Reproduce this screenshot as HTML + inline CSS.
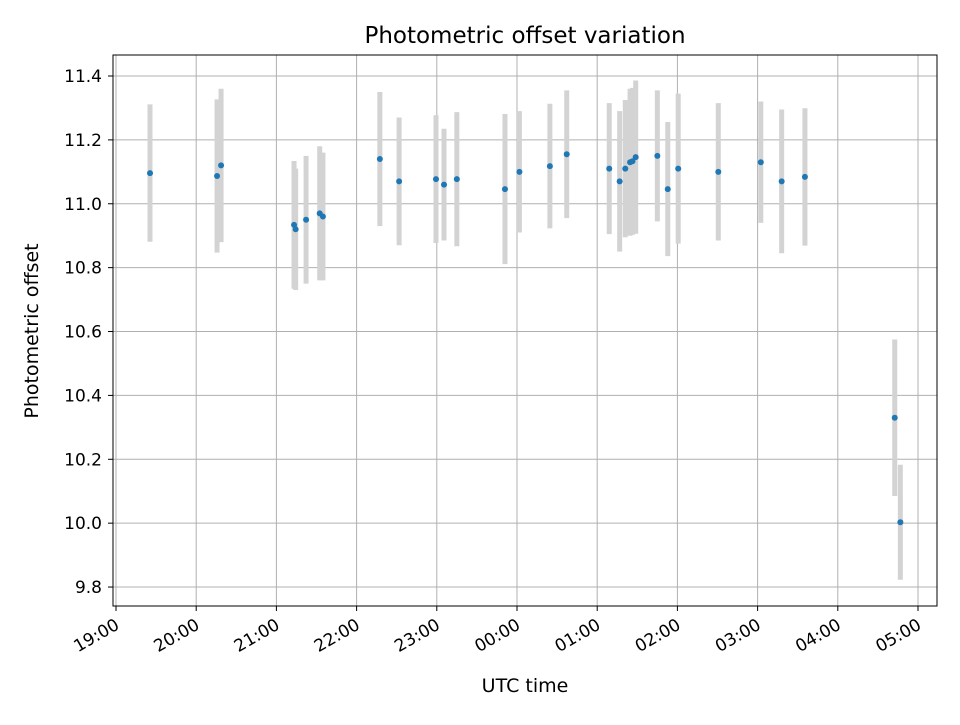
<!DOCTYPE html>
<html><head><meta charset="utf-8"><style>
body{margin:0;background:#fff;font-family:"Liberation Sans","DejaVu Sans",sans-serif}
text{font-family:"DejaVu Sans","Liberation Sans",sans-serif}
</style></head><body>
<svg id="chart" width="960" height="720" xmlns="http://www.w3.org/2000/svg">
<rect width="960" height="720" fill="#fff"/>
<g id="grid"></g>
<g id="bars"></g>
<g id="pts"></g>
<rect x="113" y="55" width="824" height="551" fill="none" stroke="#000" stroke-width="1"/>
<g id="axes"></g>
<text x="525" y="43" font-size="23" text-anchor="middle">Photometric offset variation</text>
<text x="525" y="692" font-size="19" text-anchor="middle">UTC time</text>
<text transform="translate(38,331) rotate(-90)" font-size="19" text-anchor="middle">Photometric offset</text>
</svg>
<script>
// hours since 19:00
const times=[0.424,1.26,1.31,2.22,2.24,2.37,2.54,2.58,3.29,3.53,3.99,4.09,4.25,4.85,5.03,5.41,5.62,6.15,6.28,6.35,6.41,6.44,6.48,6.75,6.88,7.01,7.51,8.04,8.30,8.59,9.71,9.78];
const values=[11.096,11.087,11.12,10.934,10.92,10.95,10.97,10.96,11.14,11.07,11.077,11.06,11.077,11.046,11.10,11.118,11.155,11.11,11.07,11.11,11.13,11.133,11.146,11.15,11.046,11.11,11.10,11.13,11.07,11.084,10.33,10.003];
const errors=[0.215,0.24,0.24,0.2,0.19,0.2,0.21,0.2,0.21,0.2,0.2,0.175,0.21,0.235,0.19,0.195,0.2,0.205,0.22,0.215,0.23,0.23,0.24,0.205,0.21,0.235,0.215,0.19,0.225,0.215,0.245,0.18];
const yTicks=[9.8,10.0,10.2,10.4,10.6,10.8,11.0,11.2,11.4];
const xTickLabels=["19:00","20:00","21:00","22:00","23:00","00:00","01:00","02:00","03:00","04:00","05:00"];
const NS="http://www.w3.org/2000/svg";
const X=t=>116+t*80.2;
const Y=v=>76+(11.4-v)*319.4;
function mk(tag,attrs,parent,txt){const e=document.createElementNS(NS,tag);for(const k in attrs)e.setAttribute(k,attrs[k]);if(txt!==undefined)e.textContent=txt;document.getElementById(parent).appendChild(e);return e;}
yTicks.forEach(v=>{
 const g=mk('line',{x1:113,x2:937,y1:Y(v),y2:Y(v),stroke:'#b0b0b0','stroke-width':1},'grid');
 
 const t=mk('line',{x1:108,x2:113,y1:Y(v),y2:Y(v),stroke:'#000'},'axes');
 
 const l=mk('text',{x:102,y:Y(v)+6,'font-size':17,'text-anchor':'end'},'axes',v.toFixed(1));
 
});
xTickLabels.forEach((s,i)=>{
 const x=X(i);
 const g=mk('line',{x1:x,x2:x,y1:55,y2:606,stroke:'#b0b0b0','stroke-width':1},'grid');
 
 const t=mk('line',{x1:x,x2:x,y1:606,y2:611,stroke:'#000'},'axes');
 
 const l=mk('text',{transform:`translate(${x-2},${617}) rotate(-30)`,'font-size':17,'text-anchor':'end',dy:'0.75em'},'axes',s);
 
});
times.forEach((t,i)=>{
 const b=mk('line',{x1:X(t),x2:X(t),y1:Y(values[i]+errors[i]),y2:Y(values[i]-errors[i]),stroke:'#d3d3d3','stroke-width':5},'bars');
 
});
times.forEach((t,i)=>{
 const c=mk('circle',{cx:X(t),cy:Y(values[i]),r:3,fill:'#1f77b4'},'pts');
 
});
</script>
</body></html>
